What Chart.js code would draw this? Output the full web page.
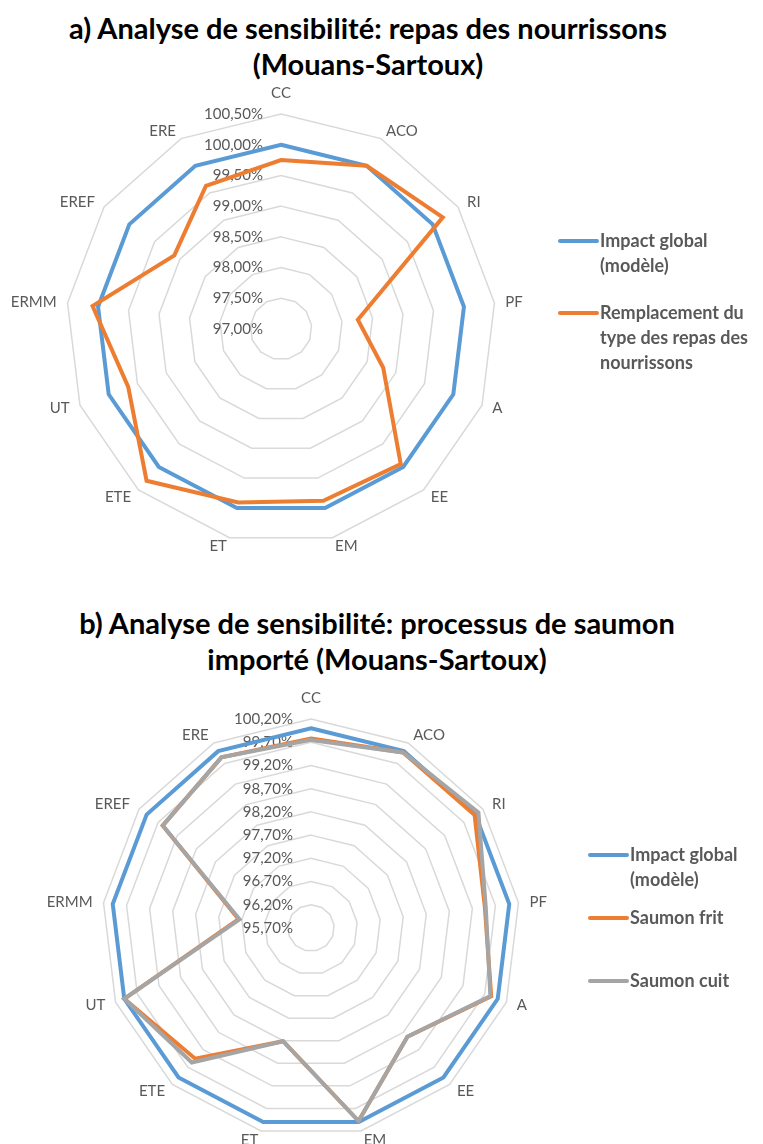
<!DOCTYPE html>
<html>
<head>
<meta charset="utf-8">
<script src="https://cdn.jsdelivr.net/npm/chart.js@4.4.1/dist/chart.umd.min.js"></script>
<style>
  body { margin: 0; background: #fff; width: 763px; height: 1144px; position: relative; overflow: hidden; font-family: Lato, sans-serif; }
  .title { position: absolute; text-align: center; font-weight: bold; font-size: 29px; line-height: 36px; color: #000; white-space: nowrap; }
  canvas { position: absolute; left: 0; }
  .item { position: absolute; font-weight: bold; font-size: 18px; line-height: 25px; color: #595959; white-space: nowrap; }
  .item i { position: absolute; left: -42px; top: 11px; width: 41px; height: 4px; border-radius: 2px; }
</style>
</head>
<body>
<div class="title" style="top:10px;left:0;width:736px">a) Analyse de sensibilité: repas des nourrissons<br>(Mouans-Sartoux)</div>
<canvas id="chartA" width="763" height="590" style="top:0"></canvas>
<div class="item" style="left:600px;top:228px"><i style="background:#5B9BD5"></i>Impact global<br>(modèle)</div>
<div class="item" style="left:600px;top:300px"><i style="background:#ED7D31"></i>Remplacement du<br>type des repas des<br>nourrissons</div>

<div class="title" style="top:605px;left:0;width:754px">b) Analyse de sensibilité: processus de saumon<br>importé (Mouans-Sartoux)</div>
<canvas id="chartB" width="763" height="554" style="top:590px"></canvas>
<div class="item" style="left:630px;top:842px"><i style="background:#5B9BD5"></i>Impact global<br>(modèle)</div>
<div class="item" style="left:630px;top:905px"><i style="background:#ED7D31"></i>Saumon frit</div>
<div class="item" style="left:630px;top:968px"><i style="background:#A5A5A5"></i>Saumon cuit</div>

<script>
// categories (impact indicators), clockwise from the top
const categories = ['CC', 'ACO', 'RI', 'PF', 'A', 'EE', 'EM', 'ET', 'ETE', 'UT', 'ERMM', 'EREF', 'ERE'];

// a) repas des nourrissons (values in %)
const impactGlobalA = [100, 100, 100, 100, 100, 100, 100, 100, 100, 100, 100, 100, 100];
const remplacementRepas = [99.75, 100.00, 100.20, 98.26, 98.78, 99.94, 99.88, 99.91, 100.30, 99.66, 100.09, 99.11, 99.63];
const axisMinA = 97.0, axisMaxA = 100.5;

// b) processus de saumon importé (values in %)
const impactGlobalB = [100, 100, 100, 100, 100, 100, 100, 100, 100, 100, 100, 100, 100];
const saumonFrit = [99.78, 99.97, 99.98, 99.47, 99.85, 98.83, 99.98, 98.21, 99.46, 100.00, 97.27, 99.58, 99.85];
const saumonCuit = [99.75, 99.97, 100.08, 99.49, 99.83, 98.83, 99.98, 98.21, 99.57, 100.00, 97.25, 99.58, 99.85];
const axisMinB = 95.7, axisMaxB = 100.2;

const axisStep = 0.5;

Chart.defaults.font.family = 'Lato, sans-serif';
Chart.defaults.color = '#595959';

const fmtPct = v => v.toFixed(2).replace('.', ',') + '%';

// Excel-like labels: ticks right-aligned left of the vertical axis,
// category labels hugging the outer ring
const radarLabelPlugin = {
    id: 'radarLabels',
    beforeDatasetsDraw(chart) {
        const s = chart.scales.r;
        const ctx = chart.ctx;
        ctx.save();
        ctx.font = '15px Lato, sans-serif';
        ctx.fillStyle = '#595959';
        ctx.textBaseline = 'middle';

        ctx.textAlign = 'right';
        s.ticks.forEach(t => {
            const y = s.yCenter - s.getDistanceFromCenterForValue(t.value);
            ctx.fillText(fmtPct(t.value), s.xCenter - 18, y);
        });

        chart.data.labels.forEach((lbl, i) => {
            const a = s.getIndexAngle(i);
            const sin = Math.sin(a), cos = Math.cos(a);
            const p = s.getPointPosition(i, s.drawingArea);
            let x = p.x + 11 * sin;
            let y = p.y - cos * 9;
            if (cos > 0.99) y -= 12;
            ctx.textAlign = Math.abs(sin) < 0.01 ? 'center' : (sin > 0 ? 'left' : 'right');
            ctx.fillText(lbl, x, y);
        });
        ctx.restore();
    }
};

const lineSet = (label, data, color, order) => ({
    label: label,
    data: data,
    borderColor: color,
    backgroundColor: color,
    borderWidth: 4,
    pointRadius: 0,
    fill: false,
    order: order
});

const radarOptions = (min, max, pad) => ({
    responsive: false,
    animation: false,
    layout: { padding: pad },
    plugins: { legend: { display: false }, tooltip: { enabled: false } },
    elements: { line: { tension: 0, borderJoinStyle: 'miter' } },
    scales: {
        r: {
            min: min,
            max: max,
            ticks: { stepSize: axisStep, display: false },
            grid: { color: '#D9D9D9', lineWidth: 1.5 },
            angleLines: { display: false },
            pointLabels: { display: false }
        }
    }
});

new Chart(document.getElementById('chartA'), {
    type: 'radar',
    data: {
        labels: categories,
        datasets: [
            lineSet('Impact global (modèle)', impactGlobalA, '#5B9BD5', 2),
            lineSet('Remplacement du type des repas des nourrissons', remplacementRepas, '#ED7D31', 1)
        ]
    },
    options: radarOptions(axisMinA, axisMaxA, { left: 66, right: 267, top: 114, bottom: 46 }),
    plugins: [radarLabelPlugin]
});

new Chart(document.getElementById('chartB'), {
    type: 'radar',
    data: {
        labels: categories,
        datasets: [
            lineSet('Impact global (modèle)', impactGlobalB, '#5B9BD5', 3),
            lineSet('Saumon frit', saumonFrit, '#ED7D31', 2),
            lineSet('Saumon cuit', saumonCuit, '#A5A5A5', 1)
        ]
    },
    options: radarOptions(axisMinB, axisMaxB, { left: 102, right: 243, top: 129, bottom: 7 }),
    plugins: [radarLabelPlugin]
});
</script>
</body>
</html>
